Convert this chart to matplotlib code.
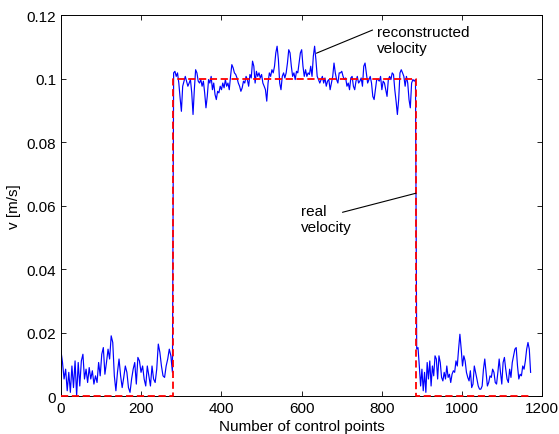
import numpy as np
import matplotlib
matplotlib.use("Agg")
import matplotlib.pyplot as plt

## reconstructed velocity vs real velocity (step profile)

# reconstructed velocity, three pieces
low_left = [0.0143, 0.0106, 0.0054, 0.0085, 0.0017, 0.0075, 0.0012, 0.0095, 0.0027, 0.0111,
            0.0001, 0.0106, 0.0032, 0.0111, 0.0132, 0.0054, 0.0085, 0.0043, 0.0090, 0.0054,
            0.0080, 0.0038, 0.0064, 0.0043, 0.0106, 0.0064, 0.0132, 0.0153, 0.0069, 0.0106,
            0.0148, 0.0117, 0.0190, 0.0169, 0.0064, 0.0017, 0.0075, 0.0117, 0.0064, 0.0027,
            0.0059, 0.0095, 0.0075, 0.0027, 0.0012, 0.0054, 0.0085, 0.0106, 0.0038, 0.0122,
            0.0111, 0.0075, 0.0095, 0.0054, 0.0032, 0.0095, 0.0064, 0.0032, 0.0095, 0.0054,
            0.0043, 0.0085, 0.0164, 0.0138, 0.0095, 0.0064, 0.0059, 0.0095, 0.0117, 0.0148,
            0.0127, 0.0075]

high = [0.1018, 0.1023, 0.1007, 0.1018, 0.0986, 0.0939, 0.0897, 0.0976, 0.0992, 0.1007,
        0.0992, 0.0976, 0.0986, 0.0997, 0.0955, 0.0887, 0.0965, 0.1028, 0.1018, 0.0992,
        0.0986, 0.0997, 0.0976, 0.0992, 0.0955, 0.0908, 0.0944, 0.0997, 0.0986, 0.1007,
        0.0965, 0.0986, 0.0950, 0.0934, 0.0960, 0.0955, 0.0976, 0.0965, 0.0986, 0.0971,
        0.0997, 0.0976, 0.0986, 0.0965, 0.1007, 0.1044, 0.1034, 0.1018, 0.1013, 0.1002,
        0.0986, 0.0976, 0.0960, 0.0971, 0.0992, 0.0986, 0.1007, 0.0997, 0.0976, 0.1013,
        0.1002, 0.1055, 0.1039, 0.0986, 0.1023, 0.1007, 0.1018, 0.1002, 0.1013, 0.0986,
        0.0976, 0.0965, 0.0929, 0.0986, 0.1018, 0.1007, 0.1028, 0.1018, 0.1039, 0.1081,
        0.1102, 0.1060, 0.0986, 0.0965, 0.1007, 0.1018, 0.1002, 0.1018, 0.1049, 0.1091,
        0.1081, 0.1039, 0.1007, 0.1018,
        0.0997, 0.1023, 0.1018, 0.1049, 0.1081, 0.1091, 0.1039, 0.1007, 0.1028, 0.1007,
        0.1018, 0.1013, 0.1039, 0.1007, 0.1070, 0.1102, 0.1060, 0.1007, 0.0997, 0.0986,
        0.0997, 0.1007, 0.0986, 0.1002, 0.0976, 0.0992, 0.0997, 0.0965, 0.0986, 0.1007,
        0.1049, 0.1018, 0.0997, 0.0986, 0.1018, 0.1018, 0.1023, 0.1007, 0.0997, 0.1002,
        0.0976, 0.0986, 0.0965, 0.1002, 0.1007, 0.0976, 0.0965, 0.0992, 0.1007, 0.0986,
        0.0992, 0.1002, 0.0976, 0.1039, 0.1049, 0.1018, 0.0986, 0.0997, 0.1007, 0.0986,
        0.0944, 0.0934, 0.0965, 0.0997, 0.0997, 0.0992, 0.1007, 0.0965, 0.0992, 0.0986,
        0.0965, 0.0944, 0.0997, 0.1007, 0.0997, 0.1018, 0.1013, 0.0965, 0.0929, 0.0887,
        0.0934, 0.1018, 0.1028, 0.1018, 0.1007, 0.0976, 0.1007, 0.0986, 0.0934, 0.0908,
        0.0986, 0.0997, 0.0992, 0.0997]

low_right = [0.0148, 0.0153, 0.0095, 0.0032, 0.0085, 0.0017, 0.0075, 0.0012, 0.0106, 0.0054,
             0.0111, 0.0032, 0.0095, 0.0064, 0.0127, 0.0117, 0.0054, 0.0127, 0.0106, 0.0059,
             0.0048, 0.0075, 0.0054, 0.0095, 0.0059, 0.0069, 0.0043, 0.0069, 0.0080, 0.0075,
             0.0111, 0.0095, 0.0148, 0.0195, 0.0148, 0.0095, 0.0127, 0.0111, 0.0075, 0.0059,
             0.0048, 0.0080, 0.0027, 0.0038, 0.0095, 0.0075, 0.0054, 0.0032, 0.0022, 0.0022,
             0.0032, 0.0085, 0.0117, 0.0075, 0.0032, 0.0043, 0.0064, 0.0059, 0.0085, 0.0075,
             0.0043, 0.0038, 0.0075, 0.0117, 0.0075, 0.0038, 0.0106, 0.0122, 0.0085, 0.0054,
             0.0043, 0.0085, 0.0059, 0.0106, 0.0127, 0.0148, 0.0153, 0.0095, 0.0054, 0.0069,
             0.0064, 0.0095, 0.0085, 0.0111, 0.0148, 0.0169, 0.0148, 0.0075]

# real velocity (step)
real_x = [0, 280, 280, 885, 885, 1173]
real_v = [0, 0, 0.1, 0.1, 0, 0]

xticks = [0, 200, 400, 600, 800, 1000, 1200]
yticks = [0, 0.02, 0.04, 0.06, 0.08, 0.1, 0.12]
ytick_labels = ['0', '0.02', '0.04', '0.06', '0.08', '0.1', '0.12']

# control point index for each piece
x1 = np.linspace(0, 278, len(low_left))
x2 = np.linspace(281, 884, len(high))
x3 = np.linspace(887, 1171, len(low_right))
x_rec = np.concatenate([x1, x2, x3])
v_rec = np.concatenate([low_left, high, low_right])

plt.rcParams['font.family'] = ['Liberation Sans', 'DejaVu Sans']

fig = plt.figure(figsize=(5.59, 4.35), dpi=100)
ax = fig.add_axes([0.109, 0.087, 0.861, 0.876])

ax.plot(x_rec, v_rec, color='#0000ff', lw=0.85)
ax.plot(real_x, real_v, color='#ff0000', lw=1.3, ls=(0, (4, 2)), clip_on=False, zorder=3)

ax.set_xlim(0, 1200)
ax.set_ylim(0, 0.12)
ax.set_xticks(xticks)
ax.set_xticklabels([str(t) for t in xticks])
ax.set_yticks(yticks)
ax.set_yticklabels(ytick_labels)
ax.tick_params(direction='in', length=3.5, width=0.6, top=True, right=True, labelsize=11)
for s in ax.spines.values():
    s.set_linewidth(0.7)

ax.set_xlabel("Number of control points", fontsize=11, labelpad=3)
ax.set_ylabel("v [m/s]", fontsize=11, labelpad=4)

# annotations: text and pointer line separately
line_kw = dict(arrowstyle='-', lw=0.8, color='black', shrinkA=0, shrinkB=0)
ax.text(787, 0.1168, "reconstructed\nvelocity", fontsize=11, va='top', ha='left')
ax.annotate("", xy=(637, 0.108), xytext=(777, 0.1153), arrowprops=line_kw)
ax.text(598, 0.0605, "real\nvelocity", fontsize=11, va='top', ha='left')
ax.annotate("", xy=(885, 0.0639), xytext=(702, 0.0579), arrowprops=line_kw)

fig.savefig("out.png", dpi=100)
